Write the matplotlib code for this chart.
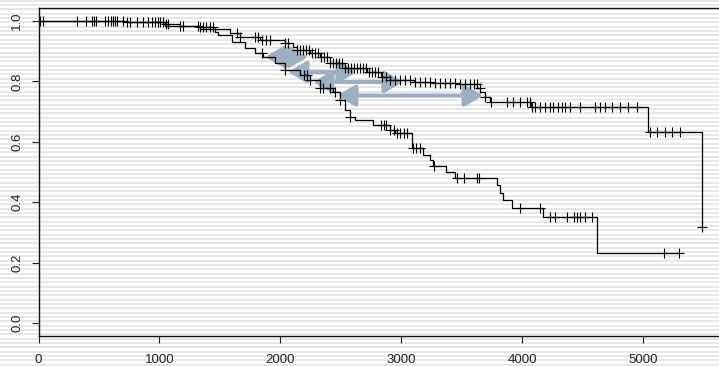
import numpy as np
import matplotlib.pyplot as plt

plt.rcParams['font.family'] = ['Liberation Sans', 'DejaVu Sans']

# ==================== 数据 ====================
# 上面那条曲线 (较好组)
upper_times = [0, 731, 1045, 1169, 1335, 1459, 1583, 1665, 1831, 2037, 2100, 2136,
               2244, 2330, 2409, 2530, 2714, 2830, 2905, 3100, 3260, 3450, 3624,
               3650, 3690, 3731, 4070, 5040, 5483]
upper_surv = [1.0, 0.995, 0.991, 0.985, 0.98, 0.972, 0.96, 0.948, 0.937, 0.926, 0.915, 0.904,
              0.894, 0.88, 0.861, 0.845, 0.831, 0.815, 0.805, 0.798, 0.795, 0.79, 0.778,
              0.765, 0.748, 0.732, 0.715, 0.632, 0.318]
upper_end = 5483
upper_censor = [12, 37, 318, 393, 442, 459, 475, 550, 574, 599, 616, 632, 649, 698, 731, 756,
                814, 864, 905, 938, 963, 988, 1004, 1029, 1054, 1070, 1169, 1194, 1318, 1335,
                1360, 1384, 1417, 1442, 1640, 1665, 1789, 1814, 1847, 1880, 1913, 2037, 2062,
                2136, 2161, 2186, 2211, 2236, 2260, 2285, 2310, 2335, 2360, 2384, 2409, 2434,
                2459, 2483, 2508, 2533, 2558, 2583, 2607, 2632, 2657, 2682, 2707, 2731, 2756,
                2781, 2806, 2839, 2872, 2905, 2946, 2988, 3029, 3070, 3112, 3153, 3194, 3236,
                3277, 3318, 3360, 3401, 3442, 3483, 3525, 3566, 3599, 3620, 3649, 3690, 3740,
                3872, 3921, 3979, 4037, 4060, 4079, 4103, 4145, 4186, 4227, 4252, 4293, 4326,
                4351, 4393, 4475, 4599, 4640, 4682, 4740, 4806, 4872, 4946, 5054, 5112, 5178,
                5236, 5302, 5483]

# 下面那条曲线 (较差组)
lower_times = [0, 731, 1045, 1335, 1459, 1483, 1599, 1707, 1789, 1855, 1954, 2037, 2161,
               2244, 2326, 2434, 2492, 2533, 2574, 2616, 2764, 2905, 2946, 3087, 3178, 3236,
               3260, 3368, 3442, 3789, 3814, 3839, 3913, 4169, 4616]
lower_surv = [1.0, 0.995, 0.985, 0.975, 0.965, 0.955, 0.93, 0.91, 0.894, 0.88, 0.86, 0.838, 0.82,
              0.805, 0.778, 0.765, 0.738, 0.705, 0.682, 0.672, 0.656, 0.639, 0.629, 0.579, 0.556,
              0.54, 0.52, 0.5, 0.48, 0.457, 0.43, 0.407, 0.381, 0.351, 0.232]
lower_end = 5290
lower_censor = [1847, 2037, 2194, 2219, 2244, 2330, 2351, 2409, 2450, 2495, 2574, 2831, 2855,
                2872, 2905, 2938, 2963, 2988, 3021, 3046, 3095, 3120, 3153, 3269, 3459, 3517,
                3624, 3640, 3979, 4145, 4227, 4269, 4368, 4426, 4450, 4475, 4517, 4575, 5169,
                5290]

# 双向箭头 (两组到达相同生存率的时间差)
arrow_y = [0.881, 0.831, 0.798, 0.753]
arrow_left = [1872, 2062, 2269, 2467]
arrow_right = [2227, 2632, 3012, 3674]

x_ticks = [0, 1000, 2000, 3000, 4000, 5000]
y_ticks = [0.0, 0.2, 0.4, 0.6, 0.8, 1.0]
y_tick_labels = ['0.0', '0.2', '0.4', '0.6', '0.8', '1.0']


def step_value(times, surv, t):
    """取阶梯函数在 t 处的值"""
    idx = np.searchsorted(times, t, side='right') - 1
    return np.asarray(surv)[idx]


def draw_curve(ax, times, surv, end, censor):
    """画一条 KM 曲线和删失标记"""
    xs = list(times) + [end]
    ys = list(surv) + [surv[-1]]
    ax.step(xs, ys, where='post', color='black', lw=0.9, zorder=3)
    cy = step_value(times, surv, np.asarray(censor))
    ax.plot(censor, cy, linestyle='none', marker='+', color='black',
            markersize=7, markeredgewidth=0.8, zorder=4)


def main():
    W, H = 719, 366
    fig = plt.figure(figsize=(W / 100, H / 100), dpi=100)

    # 背景的横条纹
    bg = fig.add_axes([0, 0, 1, 1], zorder=-1)
    bg.set_xlim(0, 1)
    bg.set_ylim(0, H)
    bg.axis('off')
    for y in np.arange(1.5, H, 4.33):
        bg.axhline(y, color='#e0e0e0', lw=1.1)

    ax = fig.add_axes([38.5 / W, 30 / H, 1 - 38.5 / W, 328 / H])
    ax.patch.set_alpha(0)

    draw_curve(ax, upper_times, upper_surv, upper_end, upper_censor)
    draw_curve(ax, lower_times, lower_surv, lower_end, lower_censor)

    for y, x0, x1 in zip(arrow_y, arrow_left, arrow_right):
        ax.annotate('', xy=(x0, y), xytext=(x1, y),
                    arrowprops=dict(arrowstyle='<|-|>,head_length=0.85,head_width=0.5',
                                    mutation_scale=13, lw=3.0, color='#9dafc0',
                                    shrinkA=0, shrinkB=0),
                    zorder=2)

    ax.set_xlim(0, 5624)
    ax.set_ylim(-0.043, 1.043)
    ax.set_xticks(x_ticks)
    ax.set_xticklabels([str(v) for v in x_ticks])
    ax.set_yticks(y_ticks)
    ax.set_yticklabels(y_tick_labels, rotation=90, va='center')

    ax.spines['right'].set_visible(False)
    for s in ['left', 'top', 'bottom']:
        ax.spines[s].set_linewidth(1.0)
        ax.spines[s].set_color('#111111')
    ax.tick_params(axis='both', direction='out', length=5, width=0.8,
                   labelsize=9.5, colors='#222222')
    ax.tick_params(axis='x', pad=8)
    ax.tick_params(axis='y', pad=6)

    fig.savefig('out.png', dpi=100)


if __name__ == "__main__":
    main()
